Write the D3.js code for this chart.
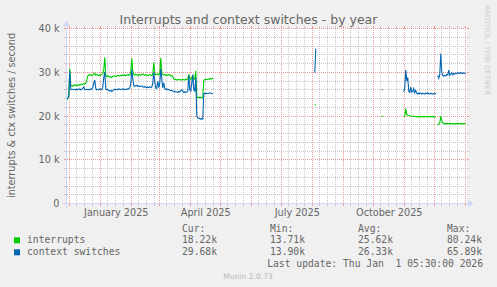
<!DOCTYPE html>
<html><head><meta charset="utf-8">
<script src="https://cdn.jsdelivr.net/npm/d3@7"></script>
<style>
html,body{margin:0;padding:0;background:#f0f0f0;}
svg{display:block;}
text{white-space:pre;}
</style>
</head><body>
<svg id="chart" width="497" height="287"></svg>
<script>
// ---------------- data ----------------
const chartTitle = "Interrupts and context switches - by year";
const yAxisTitle = "interrupts & ctx switches / second";
const yTickValues = [0, 10, 20, 30, 40];            // thousands
const yTickLabels = ["0", "10 k", "20 k", "30 k", "40 k"];
const xLabelMonths = ["2025-01-01", "2025-04-01", "2025-07-01", "2025-10-01"];
const xLabels = ["January 2025", "April 2025", "July 2025", "October 2025"];
const seriesNames = ["interrupts", "context switches"];
const rangeStart = "2024-11-27T05:30:00Z";
const rangeEnd = "2026-01-01T05:30:00Z";

// daily samples; each segment starts at the given date, one value per day (thousands / s)
const segmentStarts = ["2024-11-28", "2025-08-03", "2025-10-09", "2025-10-31", "2025-12-04"];
const interrupts = [
  [ // Nov 28-30
    23.7, 24.0, 24.6,
    // Dec
    30.9, 27.0, 26.9, 26.8, 27.0, 27.2, 26.9, 27.0, 27.1, 27.0, 27.2, 27.1, 27.3, 27.2, 27.4, 27.3,
    27.5, 28.2, 29.2, 29.4, 29.3, 29.5, 29.2, 29.4, 29.6, 29.8, 29.3, 29.5, 29.4, 29.2, 29.4,
    // Jan
    29.3, 29.5, 29.7, 30.6, 33.4, 29.3, 29.0, 29.2, 29.1, 28.9, 29.0, 28.8, 29.0, 29.1, 29.2, 29.0,
    29.1, 29.3, 29.2, 29.1, 29.3, 29.2, 29.4, 29.3, 29.4, 29.2, 29.3, 29.5, 29.3, 29.4, 30.0,
    // Feb
    33.2, 30.2, 29.5, 29.3, 29.6, 29.4, 29.2, 29.5, 29.4, 29.3, 29.5, 29.6, 29.4, 29.3,
    29.5, 29.4, 29.2, 29.3, 29.5, 29.3, 29.2, 29.6, 32.2, 29.8, 29.4, 29.5, 29.6, 29.4,
    // Mar
    29.8, 33.3, 30.0, 29.5, 29.4, 29.5, 29.3, 29.4, 29.3, 29.5, 29.4, 29.2, 29.3, 29.0, 28.5, 28.3,
    28.4, 28.2, 28.3, 28.4, 28.3, 28.2, 28.3, 28.4, 28.3, 28.2, 28.4, 28.3, 28.5, 29.5, 28.6,
    // Apr 1-23
    28.3, 28.8, 29.3, 28.4, 28.5, 30.3, 24.3, 24.2, 24.2, 24.3, 24.2, 24.1, 24.2, 28.2, 28.3, 28.4,
    28.3, 28.4, 28.5, 28.4, 28.6, 28.5, 28.6
  ],
  [22.7, 22.5],
  [19.9, 20.0],
  [19.8, 20.0, 21.7, 20.3, 20.2, 20.1, 20.0, 20.0, 19.9, 19.9, 20.0, 19.9, 19.9, 19.8, 19.9, 19.8,
   19.9, 19.8, 19.9, 19.8, 19.9, 19.8, 19.9, 19.9, 19.8, 19.9, 19.8, 19.9, 19.8, 19.9, 19.8, 19.8, 19.9],
  [17.9, 18.2, 18.4, 20.0, 19.0, 18.4, 18.3, 18.2, 18.3, 18.2, 18.3, 18.2, 18.2, 18.3, 18.2, 18.3,
   18.2, 18.2, 18.3, 18.2, 18.2, 18.3, 18.2, 18.2, 18.3, 18.2, 18.2, 18.2, 18.22]
];
const contextSwitches = [
  [ // Nov 28-30
    23.9, 24.1, 24.5,
    // Dec
    30.2, 26.1, 26.0, 26.1, 26.0, 26.1, 26.0, 26.2, 26.0, 26.1, 26.2, 26.0, 26.1, 26.3, 26.6, 26.1,
    26.0, 26.1, 26.0, 26.1, 26.0, 26.2, 26.1, 26.5, 27.5, 28.2, 26.3, 26.0, 26.1, 26.0, 26.2,
    // Jan
    26.1, 26.0, 26.6, 28.8, 30.1, 26.2, 26.0, 26.1, 25.8, 25.7, 25.9, 25.6, 25.8, 26.0, 26.1, 26.0,
    26.1, 26.0, 26.2, 26.1, 26.0, 26.1, 26.2, 26.1, 26.0, 26.1, 26.2, 26.1, 26.2, 26.4, 27.5,
    // Feb
    30.6, 28.5, 27.0, 26.8, 26.9, 27.0, 26.8, 26.9, 26.7, 26.8, 26.9, 26.7, 26.6, 26.7,
    26.6, 26.5, 26.6, 26.5, 26.7, 26.5, 26.6, 27.5, 30.0, 27.8, 26.4, 26.3, 28.0, 26.5,
    // Mar
    27.5, 30.8, 28.5, 26.4, 27.6, 26.2, 26.1, 26.2, 26.0, 26.1, 25.9, 25.8, 25.9, 25.7, 25.6, 25.5,
    25.6, 25.5, 25.4, 25.6, 25.5, 25.8, 26.0, 25.7, 25.4, 25.5, 25.4, 25.5, 25.6, 29.3, 26.0,
    // Apr 1-23
    25.7, 27.5, 29.4, 26.0, 25.7, 28.8, 20.0, 19.6, 19.5, 19.4, 19.3, 19.4, 19.3, 25.0, 25.2, 25.1,
    25.2, 25.1, 25.2, 25.3, 25.2, 25.1, 25.2
  ],
  [29.9, 35.4],
  [26.0, 26.0],
  [25.5, 26.5, 30.5, 28.0, 28.8, 25.6, 25.4, 26.6, 25.5, 25.6, 26.3, 25.3, 25.8, 25.2, 25.0, 25.3,
   25.1, 25.2, 25.0, 25.2, 25.1, 25.0, 25.2, 25.1, 25.3, 25.1, 25.0, 25.2, 25.1, 25.0, 25.1, 25.2, 25.0],
  [29.3, 28.6, 29.5, 34.3, 30.0, 29.3, 29.1, 29.3, 29.2, 29.5, 29.4, 30.5, 29.3, 29.6, 29.9, 29.4,
   29.7, 29.6, 29.8, 29.7, 29.9, 29.8, 29.7, 29.9, 29.8, 29.7, 29.9, 29.8, 29.68]
];

const statHeaders = ["Cur:", "Min:", "Avg:", "Max:"];
const interruptStats = ["18.22k", "13.71k", "25.62k", "80.24k"];
const contextSwitchStats = ["29.68k", "13.90k", "26.33k", "65.89k"];
const lastUpdate = "Last update: Thu Jan  1 05:30:00 2026";
const versionText = "Munin 2.0.73";
const watermark = "RRDTOOL / TOBI OETIKER";

// ---------------- styles ----------------
const colors = ["#00CC00", "#0066B3"];
const fontColor = "#666666";
const axisColor = "#CFD6F8";
const sansFont = "'DejaVu Sans', sans-serif";
const monoFont = "'DejaVu Sans Mono', monospace";
const plot = {left: 66, right: 466, top: 28.5, bottom: 203.5};
const minorColor = "rgb(200,200,200)";
const majorColor = "rgb(236,150,150)";

// ---------------- drawing ----------------
const svg = d3.select("#chart");
svg.append("rect").attr("width", 497).attr("height", 287).attr("fill", "#F0F0F0");

const x = d3.scaleUtc().domain([new Date(rangeStart), new Date(rangeEnd)]).range([plot.left, plot.right]);
const y = d3.scaleLinear().domain([0, 40]).range([plot.bottom, plot.top]);

// canvas
svg.append("rect").attr("x", plot.left).attr("y", 28).attr("width", plot.right - plot.left + 1)
  .attr("height", 176).attr("fill", "#FFFFFF");

// grid built as pixel-dot paths (dotted 1 on / 1 off, with solid 2px ticks outside)
const gridPaths = {minor: "", major: ""};
const dot = (px, py) => `M${px},${py}h1v1h-1z`;
function hLine(v, kind) {
  const yy = Math.floor(y(v));
  let p = `M${plot.left - 2},${yy}h2v1h-2z M${plot.right + 1},${yy}h2v1h-2z`;
  for (let px = plot.left + 1; px <= plot.right; px += 2) p += dot(px, yy);
  gridPaths[kind] += p;
}
function vLine(d, kind) {
  const xx = Math.floor(x(d));
  let p = `M${xx},26h1v2h-1z M${xx},204h1v2h-1z`;
  for (let py = 28; py < 203; py += 2) p += dot(xx, py);
  gridPaths[kind] += p;
}
d3.range(0, 41, 2).filter(v => v % 10 !== 0).forEach(v => hLine(v, "minor"));
const [d0, d1] = x.domain();
d3.utcMonth.range(d3.utcMonth.floor(d0), d1).forEach(m => {
  [7, 15, 23].forEach(o => {
    const d = d3.utcDay.offset(m, o);
    if (d > d0 && d < d1) vLine(d, "minor");
  });
});
yTickValues.forEach(v => hLine(v, "major"));
d3.utcMonth.range(d0, d1).forEach(m => vLine(m, "major"));
svg.append("path").attr("d", gridPaths.minor).attr("fill", minorColor).attr("shape-rendering", "crispEdges");
svg.append("path").attr("d", gridPaths.major).attr("fill", majorColor).attr("shape-rendering", "crispEdges");

// series lines
const line = d3.line().x(d => x(d.date)).y(d => y(d.v));
[interrupts, contextSwitches].forEach((series, si) => {
  series.forEach((vals, gi) => {
    const start = new Date(segmentStarts[gi] + "T00:00:00Z");
    const pts = vals.map((v, i) => ({date: d3.utcDay.offset(start, i), v}));
    svg.append("path").datum(pts).attr("d", line).attr("fill", "none")
      .attr("stroke", colors[si]).attr("stroke-width", 1.1);
  });
});

// axes
svg.append("line").attr("x1", plot.left - 4).attr("x2", plot.right + 4)
  .attr("y1", plot.bottom).attr("y2", plot.bottom).attr("stroke", axisColor).attr("stroke-width", 1);
svg.append("line").attr("x1", plot.left + 0.5).attr("x2", plot.left + 0.5)
  .attr("y1", plot.bottom + 4).attr("y2", plot.top - 4).attr("stroke", axisColor).attr("stroke-width", 1);
svg.append("path").attr("d", d3.line()([[plot.right + 2, plot.bottom - 3.5], [plot.right + 7.5, plot.bottom], [plot.right + 2, plot.bottom + 3.5]]) + "Z")
  .attr("fill", axisColor);
svg.append("path").attr("d", d3.line()([[plot.left - 3, plot.top - 2.5], [plot.left + 0.5, plot.top - 8], [plot.left + 4, plot.top - 2.5]]) + "Z")
  .attr("fill", axisColor);

// y tick labels
yTickValues.forEach((v, i) => {
  svg.append("text").attr("x", 59.5).attr("y", y(v) + 3.5).attr("text-anchor", "end")
    .attr("font-family", sansFont).attr("font-size", 9.7).attr("fill", fontColor).text(yTickLabels[i]);
});
// x labels centered in their month
xLabelMonths.forEach((s, i) => {
  const m = new Date(s + "T00:00:00Z");
  const cx = (x(m) + x(d3.utcMonth.offset(m, 1))) / 2;
  svg.append("text").attr("x", cx).attr("y", 215.5).attr("text-anchor", "middle")
    .attr("font-family", sansFont).attr("font-size", 9.7).attr("fill", fontColor).text(xLabels[i]);
});

// title
svg.append("text").attr("x", 248.5).attr("y", 24).attr("text-anchor", "middle")
  .attr("font-family", sansFont).attr("font-size", 12.5).attr("fill", fontColor).text(chartTitle);
// y axis title
svg.append("text").attr("transform", "translate(14.5,115.5) rotate(-90)").attr("text-anchor", "middle")
  .attr("font-family", sansFont).attr("font-size", 9.7).attr("fill", fontColor).text(yAxisTitle);
// watermark
svg.append("text").attr("transform", "translate(484.5,5) rotate(90)").attr("text-anchor", "start")
  .attr("font-family", sansFont).attr("font-size", 7).attr("fill", "#cccccc").text(watermark);

// legend
const colX = [182, 270, 358, 447];
statHeaders.forEach((h, i) => {
  svg.append("text").attr("x", colX[i]).attr("y", 231.7).attr("font-family", monoFont)
    .attr("font-size", 9.7).attr("fill", fontColor).text(h);
});
[interruptStats, contextSwitchStats].forEach((stats, si) => {
  const by = 243.3 + si * 12;
  svg.append("rect").attr("x", 14).attr("y", by - 6).attr("width", 6).attr("height", 6).attr("fill", colors[si]);
  svg.append("text").attr("x", 27).attr("y", by).attr("font-family", monoFont)
    .attr("font-size", 9.7).attr("fill", fontColor).text(seriesNames[si]);
  stats.forEach((s, i) => {
    svg.append("text").attr("x", colX[i]).attr("y", by).attr("font-family", monoFont)
      .attr("font-size", 9.7).attr("fill", fontColor).text(s);
  });
});
svg.append("text").attr("x", 483).attr("y", 267.3).attr("text-anchor", "end").attr("font-family", monoFont)
  .attr("font-size", 9.7).attr("fill", fontColor).text(lastUpdate);
svg.append("text").attr("x", 248).attr("y", 279).attr("text-anchor", "middle").attr("font-family", sansFont)
  .attr("font-size", 7.6).attr("fill", "#b8b8b8").text(versionText);
</script>
</body></html>
